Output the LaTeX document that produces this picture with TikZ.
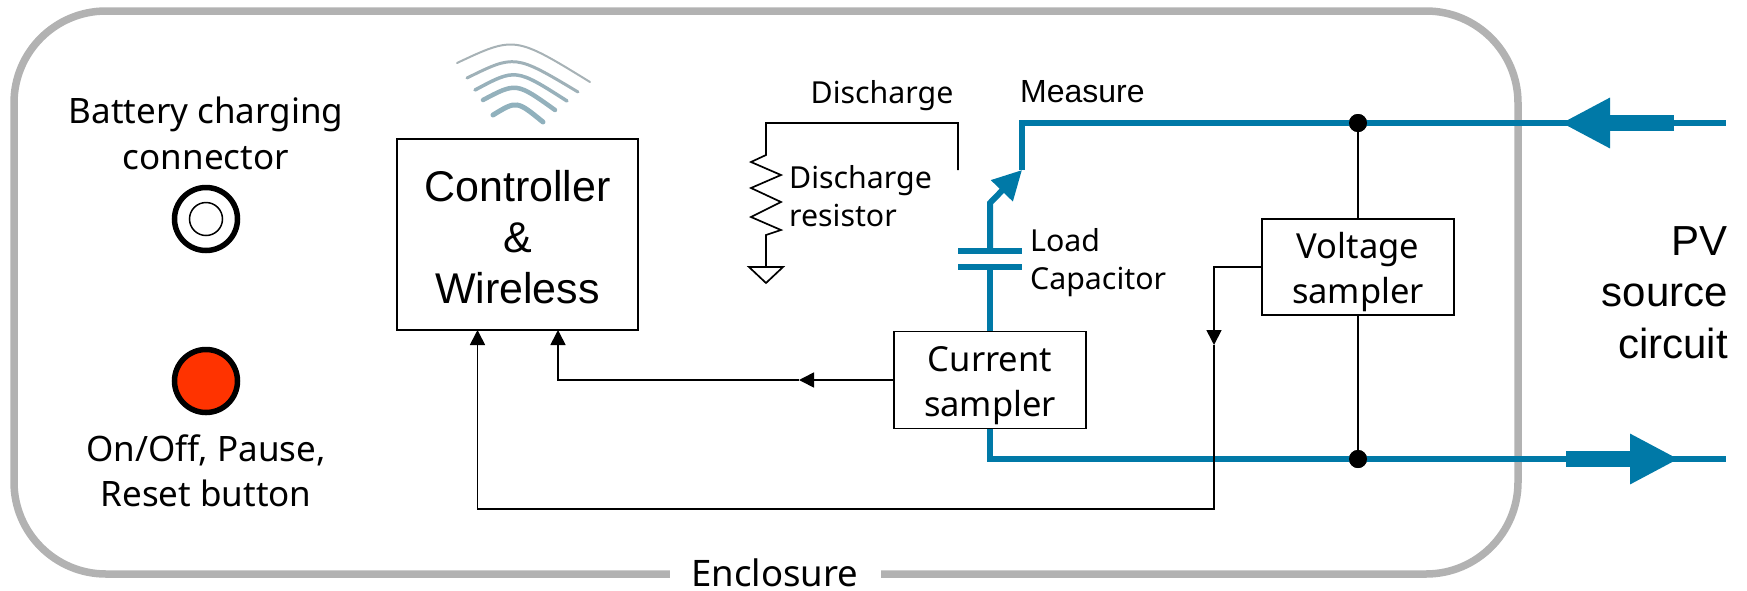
\documentclass[tikz,border=0pt]{standalone}
\usepackage{fontspec}
\setmainfont{Liberation Sans}
\newfontfamily\labelfont{Noto Sans}
\usetikzlibrary{arrows.meta, positioning}
\definecolor{pvblue}{HTML}{0079A7}
\definecolor{encgray}{HTML}{B2B2B2}
\definecolor{btnred}{HTML}{FF3300}

\begin{document}
\begin{tikzpicture}[x=1pt, y=-1pt,
	wire/.style = {black, line width=1.7pt},
	tip/.style = {-{Triangle[length=15pt,width=15pt]}},
	pv/.style = {pvblue, line width=6pt},
	wifi/.style = {line cap=round},
	main/.style = {draw, wire, fill=white, align=center, inner sep=0pt},
	small/.style = {inner sep=0pt, align=left, font=\labelfont\fontsize{30.3}{38}\selectfont},
	big/.style = {inner sep=0pt, align=center, font=\labelfont\fontsize{35}{45.5}\selectfont},
	sampler/.style = {main, minimum width=192pt, font=\labelfont\fontsize{34.5}{44.5}\selectfont},
	dot/.style = {circle, fill=black, inner sep=0pt, minimum size=18pt},
	jack/.style = {circle, draw=black, line width=5.5pt, inner sep=0pt, minimum size=63pt}]
	\useasboundingbox (0,0) rectangle (1747,590);
	\draw[encgray, line width=7.5pt, rounded corners=92pt] (14,11) rectangle (1518,574);
	\node[fill=white, minimum width=211pt, minimum height=20pt] (enc) at (775.5,574) {};
	\node[inner sep=0pt, anchor=base, font=\labelfont\fontsize{36.5}{44}\selectfont] (enclabel) at (775,586) {Enclosure};

	\node[jack] (conn) at (206,219) {};
	\node[circle, draw=black, line width=1.5pt, minimum size=33pt, inner sep=0pt] (conn2) at (conn) {};
	\node[jack, fill=btnred] (btn) at (206,381) {};
	\node[big, above=15pt of conn] (batt) {Battery charging\\connector};
	\node[big, below=19pt of btn] (reset) {On/Off, Pause,\\Reset button};

	\node[main, minimum width=241pt, minimum height=191pt, font=\fontsize{43}{51}\selectfont] (ctrl) at (517.5,234.5) {\rule{0pt}{36pt}Controller\\\&\\Wireless};
	\draw[wifi, pvblue!15!gray!60, line width=2pt] (457,63) .. controls (514.8,35.8) .. (590,82);
	\draw[wifi, pvblue!25!gray!60, line width=3pt] (467,78) .. controls (515,54.3) .. (578,92);
	\draw[wifi, pvblue!35!gray!60, line width=3.5pt] (475,90) .. controls (515.7,68.2) .. (567,101);
	\draw[wifi, pvblue!40!gray!60, line width=4.5pt] (483,100) .. controls (516.3,82.3) .. (555,110);
	\draw[wifi, pvblue!45!gray!60, line width=5pt] (493,115) .. controls (516.7,100.5) .. (543,122);

	\node[sampler, minimum height=97pt] (cur) at (990,380) {\rule{0pt}{36pt}Current\\sampler};
	\node[sampler, minimum height=96pt] (volt) at (1358,267) {\rule{0pt}{36pt}Voltage\\sampler};

	\coordinate (sw) at (1022,170);
	\coordinate (swfoot) at (990,203);
	\coordinate (cap1) at (990,251);
	\coordinate (cap2) at (990,267);
	\coordinate (pv1) at (1726,123);
	\coordinate (pv2) at (1726,459);
	\coordinate (corner) at (990,459);
	\node[dot] (d1) at (1358,123) {};
	\node[dot] (d2) at (1358,459) {};

	\draw[pv] (sw) |- (pv1);
	\draw[pv] (cur.south) -- (corner) -- (pv2);
	\draw[pv, -{Triangle[length=29pt,width=29pt]}] (cap1) -- (swfoot) -- (sw);
	\draw[pv] (cap2) -- (cur.north);
	\draw[pv] (958,251) -- (1022,251);
	\draw[pv] (958,267) -- (1022,267);
	\draw[pvblue, line width=16pt, -{Triangle[length=49pt,width=47pt]}] (1674,123) -- (1561,123);
	\draw[pvblue, line width=16pt, -{Triangle[length=49pt,width=47pt]}] (1566,459) -- (1679,459);

	\node[dot] at (d1) {};
	\node[dot] at (d2) {};
	\draw[wire] (d1) -- (volt.north);
	\draw[wire] (volt.south) -- (d2);

	\coordinate (curmid) at (799,380);
	\coordinate (voltmid) at (1214,345);
	\coordinate (ctrlcur) at (558,330);
	\coordinate (ctrlvolt) at (477.5,330);
	\coordinate (bot) at (1214,509);
	\draw[wire, tip] (cur.west) -- (curmid);
	\draw[wire, tip] (curmid) -| (ctrlcur);
	\draw[wire, tip] (volt.west) -| (voltmid);
	\draw[wire, tip] (voltmid) -- (bot) -| (ctrlvolt);

	\coordinate (rcorner) at (766,123);
	\coordinate (rtop) at (766,155);
	\coordinate (rbot) at (766,235);
	\coordinate (gnd) at (766,267);
	\draw[wire] (958,170) |- (rcorner) -- (rtop) -- (751,162) -- (781,175) -- (751,188) -- (781,202) -- (751,217) -- (781,230) -- (rbot) -- (gnd);
	\draw[wire] (749,267) -- (783,267) -- (766,283) -- cycle;

	\node[small, anchor=base] (dis) at (882,103) {Discharge};
	\node[anchor=base west, inner sep=0pt, font=\fontsize{32}{36}\selectfont] (meas) at (1020,102) {Measure};
	\node[small, anchor=north west] (res) at (789,165) {Discharge\\resistor};
	\node[small, anchor=north west] (load) at (1030,228) {Load\\Capacitor};
	\node[inner sep=0pt, align=right, anchor=north east, font=\fontsize{42}{51.5}\selectfont] (src) at (1728,226) {PV\\source\\circuit};
\end{tikzpicture}
\end{document}
